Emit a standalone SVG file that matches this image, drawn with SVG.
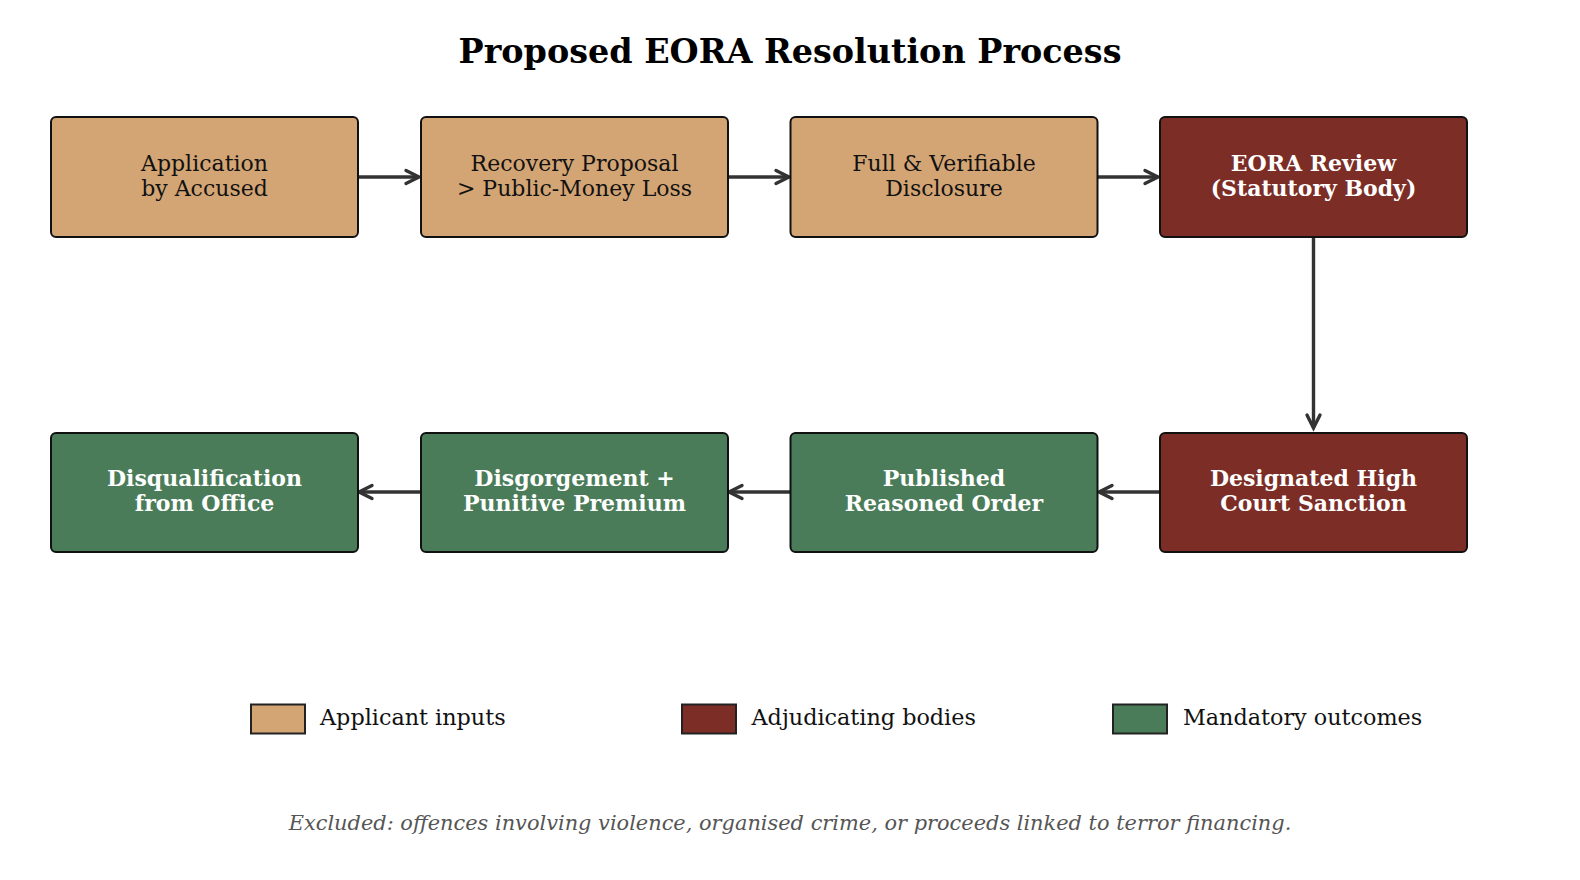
<svg xmlns="http://www.w3.org/2000/svg" width="1580" height="880" viewBox="0 0 1580 880">
<defs>
<marker id="chev" markerUnits="userSpaceOnUse" markerWidth="30" markerHeight="30" viewBox="-20 -15 30 30" refX="0" refY="0" orient="auto">
<path d="M-13,-6.5 L0,0 L-13,6.5" fill="none" stroke="#333333" stroke-width="3.4" stroke-linecap="round" stroke-linejoin="miter"/>
</marker>
<style>
.box{stroke:#111111;stroke-width:2}
.tan{fill:#D4A574}
.red{fill:#7B2D26}
.grn{fill:#4A7C59}
.t{font-family:"DejaVu Serif","Liberation Serif",serif;font-size:22px;text-anchor:middle}
.dk{fill:#111111}
.wt{fill:#ffffff;font-weight:bold}
.conn{fill:none;stroke:#333333;stroke-width:3.4;marker-end:url(#chev)}
.leg{stroke:#222222;stroke-width:2}
.lt{font-family:"DejaVu Serif","Liberation Serif",serif;font-size:22.3px;fill:#111111}
</style>
</defs>
<rect width="1580" height="880" fill="#ffffff"/>
<text x="790" y="63" font-family="DejaVu Serif, Liberation Serif, serif" font-size="33.4" font-weight="bold" text-anchor="middle" fill="#000">Proposed EORA Resolution Process</text>

<g id="connectors">
<path class="conn" d="M356,177 L419,177"/>
<path class="conn" d="M726,177 L789,177"/>
<path class="conn" d="M1095,177 L1158,177"/>
<path class="conn" d="M1313.5,238 L1313.5,428"/>
<path class="conn" d="M1163,492 L1099,492"/>
<path class="conn" d="M794,492 L729,492"/>
<path class="conn" d="M424,492 L359,492"/>
</g>

<g id="n1"><rect class="box tan" x="51" y="117" width="307" height="120" rx="5"/>
<text class="t dk" x="204.5" y="171">Application</text><text class="t dk" x="204.5" y="196">by Accused</text></g>
<g id="n2"><rect class="box tan" x="421" y="117" width="307" height="120" rx="5"/>
<text class="t dk" x="574.5" y="171">Recovery Proposal</text><text class="t dk" x="574.5" y="196">&gt; Public-Money Loss</text></g>
<g id="n3"><rect class="box tan" x="790.5" y="117" width="307" height="120" rx="5"/>
<text class="t dk" x="944" y="171">Full &amp; Verifiable</text><text class="t dk" x="944" y="196">Disclosure</text></g>
<g id="n4"><rect class="box red" x="1160" y="117" width="307" height="120" rx="5"/>
<text class="t wt" x="1313.5" y="171">EORA Review</text><text class="t wt" x="1313.5" y="196">(Statutory Body)</text></g>

<g id="n5"><rect class="box red" x="1160" y="433" width="307" height="119" rx="5"/>
<text class="t wt" x="1313.5" y="486">Designated High</text><text class="t wt" x="1313.5" y="511">Court Sanction</text></g>
<g id="n6"><rect class="box grn" x="790.5" y="433" width="307" height="119" rx="5"/>
<text class="t wt" x="944" y="486">Published</text><text class="t wt" x="944" y="511">Reasoned Order</text></g>
<g id="n7"><rect class="box grn" x="421" y="433" width="307" height="119" rx="5"/>
<text class="t wt" x="574.5" y="486">Disgorgement +</text><text class="t wt" x="574.5" y="511">Punitive Premium</text></g>
<g id="n8"><rect class="box grn" x="51" y="433" width="307" height="119" rx="5"/>
<text class="t wt" x="204.5" y="486">Disqualification</text><text class="t wt" x="204.5" y="511">from Office</text></g>

<g id="legend">
<rect class="leg tan" x="251" y="704.5" width="54" height="29"/>
<text class="lt" x="320" y="725">Applicant inputs</text>
<rect class="leg red" x="682" y="704.5" width="54" height="29"/>
<text class="lt" x="751.5" y="725">Adjudicating bodies</text>
<rect class="leg grn" x="1113" y="704.5" width="54" height="29"/>
<text class="lt" x="1183" y="725">Mandatory outcomes</text>
</g>

<text x="790" y="830" font-family="DejaVu Serif, Liberation Serif, serif" font-size="20.9" font-style="italic" text-anchor="middle" fill="#555555">Excluded: offences involving violence, organised crime, or proceeds linked to terror financing.</text>
</svg>
